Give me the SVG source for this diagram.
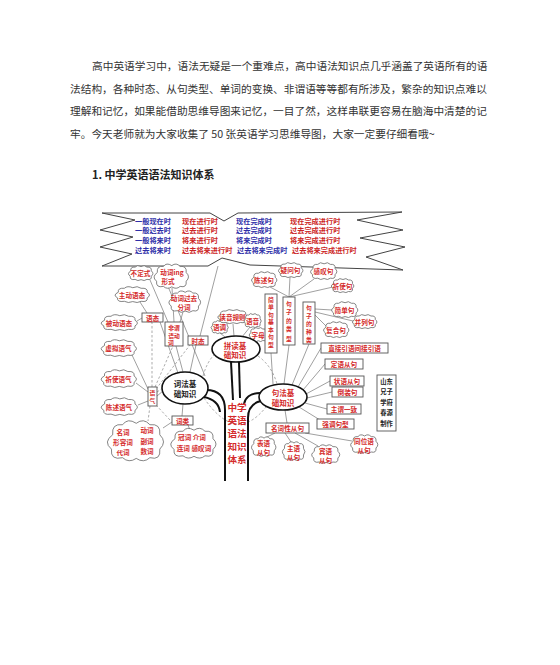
<svg xmlns="http://www.w3.org/2000/svg" xmlns:xlink="http://www.w3.org/1999/xlink" width="560" height="665" viewBox="0 0 560 665">
<style>
.p{font-family:"Noto Sans CJK SC","Noto Sans",sans-serif;font-size:10.7px;fill:#333}
.h{font-family:"Noto Sans CJK SC","Noto Sans",sans-serif;font-size:11px;font-weight:bold;fill:#222}
.r{font-family:"Noto Sans CJK SC",sans-serif;font-size:6.6px;font-weight:bold;fill:#d42b2b;text-anchor:middle;dominant-baseline:central}
.v{font-size:5.8px}
.b{font-family:"Noto Sans CJK SC",sans-serif;font-size:7.2px;font-weight:bold;fill:#2f2fa8}
.t{font-family:"Noto Sans CJK SC",sans-serif;font-size:7.2px;font-weight:bold;fill:#cc2525}
.k{font-family:"Noto Sans CJK SC",sans-serif;font-size:7.5px;font-weight:bold;fill:#222;text-anchor:middle;dominant-baseline:central}
.big{font-family:"Noto Sans CJK SC",sans-serif;font-size:9.6px;font-weight:bold;fill:#d42b2b;text-anchor:middle}
.bx{fill:#fff;stroke:#555;stroke-width:0.9}
.el{fill:#fff;stroke:#111;stroke-width:1.6}
.ln{stroke:#777;stroke-width:0.7;fill:none}
.ds{stroke:#888;stroke-width:0.7;fill:none;stroke-dasharray:2.5 2}
.tk{stroke:#111;stroke-width:2;fill:none}
</style>
<defs>
<symbol id="cloud" viewBox="0 0 100 60" preserveAspectRatio="none" style="overflow:visible">
<path d="M14,22 Q12,6 30,8 Q38,-2 52,6 Q64,-2 74,8 Q92,6 90,22 Q102,32 90,42 Q92,58 74,54 Q64,62 52,55 Q40,62 30,54 Q10,58 12,42 Q-2,32 14,22 Z" fill="#fff" stroke="#666" stroke-width="0.8" vector-effect="non-scaling-stroke"/>
</symbol>
</defs>

<g id="article">
<text class="p" x="92" y="70">高中英语学习中，语法无疑是一个重难点，高中语法知识点几乎涵盖了英语所有的语</text>
<text class="p" x="70" y="92.5">法结构，各种时态、从句类型、单词的变换、非谓语等等都有所涉及，繁杂的知识点难以</text>
<text class="p" x="70" y="115">理解和记忆，如果能借助思维导图来记忆，一目了然，这样串联更容易在脑海中清楚的记</text>
<text class="p" x="70" y="137.5">牢。今天老师就为大家收集了 50 张英语学习思维导图，大家一定要仔细看哦~</text>
<text class="h" x="92" y="179">1. 中学英语语法知识体系</text>
</g>

<g id="connectors">
<path class="ds" d="M203,376 Q207,362 214,355"/>
<path class="ds" d="M258,356 Q272,366 277,384"/>
<path class="ds" d="M204,398 Q236,445 266,407"/>
<path class="ds" d="M152,387 L152,322"/>
<path class="ds" d="M155,387 L173,346"/>
<path class="ds" d="M156,389 L190,345"/>
<path class="ds" d="M157,392 L163,388"/>
<path class="ds" d="M150,406 L148,421"/>
<path class="ds" d="M156,405 L170,420"/>
<path class="ln" d="M147,313 L140,302"/>
<path class="ln" d="M142,318 L137,321"/>
<path class="ln" d="M160,322 L178,373"/>
<path class="ln" d="M168,322 L150,280"/>
<path class="ln" d="M174,322 L172,288"/>
<path class="ln" d="M180,322 L183,312"/>
<path class="ln" d="M176,346 L183,372"/>
<path class="ln" d="M200,336 L218,266"/>
<path class="ln" d="M196,345 L190,372"/>
<path class="ln" d="M160,267 L205,376"/>
<path class="ln" d="M148,389 L132,355"/>
<path class="ln" d="M148,392 L136,383"/>
<path class="ln" d="M148,401 L138,405"/>
<path class="ln" d="M157,396 L163,391"/>
<path class="ln" d="M182,416 L183,404"/>
<path class="ln" d="M172,422 L163,428"/>
<path class="ln" d="M188,425 L190,430"/>
<path class="ln" d="M225,337 L220,333"/>
<path class="ln" d="M234,336 L233,324"/>
<path class="ln" d="M242,337 L250,327"/>
<path class="ln" d="M249,340 L254,338"/>
<path class="ln" d="M271,353 L273,384"/>
<path class="ln" d="M289,345 L284,384"/>
<path class="ln" d="M309,344 L292,385"/>
<path class="ln" d="M321,348 L298,387"/>
<path class="ln" d="M325,364 L303,390"/>
<path class="ln" d="M330,381 L306,394"/>
<path class="ln" d="M332,392 L307,398"/>
<path class="ln" d="M327,409 L305,403"/>
<path class="ln" d="M320,420 L299,407"/>
<path class="ln" d="M287,423 L285,410"/>
<path class="ln" d="M289,297 L270,287"/>
<path class="ln" d="M289,297 L290,277"/>
<path class="ln" d="M289,297 L314,279"/>
<path class="ln" d="M289,297 L333,287"/>
<path class="ln" d="M315,309 L332,310"/>
<path class="ln" d="M315,312 L353,321"/>
<path class="ln" d="M315,315 L326,326"/>
<path class="ln" d="M275,433 L265,438"/>
<path class="ln" d="M285,433 L291,442"/>
<path class="ln" d="M295,433 L318,446"/>
<path class="ln" d="M305,433 L352,441"/>
<path class="tk" d="M206,390 C220,390 225,398 225,410 L225,481"/>
<path class="tk" d="M204,397 C214,399 219,404 220,412"/>
<path class="tk" d="M231,362 L233,400"/>
<path class="tk" d="M239,362 L240,398"/>
<path class="tk" d="M261,401 C252,403 248,409 248,418 L248,481"/>
<path class="tk" d="M260,393 C250,393 245,398 244,404"/>
</g>

<g id="banner">
<polygon points="102,213 210,213 224,221 238,213 402,212 357,220 403,230 360,238 405,247 366,257 403,270 250,265 222,258 208,266 102,266 132,254 100,247 133,237 100,230 135,220" fill="#fff" stroke="#444" stroke-width="1"/>
<text class="b" x="135" y="223.5">一般现在时</text>
<text class="t" x="182" y="223.5">现在进行时</text>
<text class="b" x="236" y="223.5">现在完成时</text>
<text class="t" x="290" y="223.5">现在完成进行时</text>
<text class="b" x="135" y="233">一般过去时</text>
<text class="t" x="182" y="233">过去进行时</text>
<text class="b" x="236" y="233">过去完成时</text>
<text class="t" x="290" y="233">过去完成进行时</text>
<text class="b" x="135" y="242.5">一般将来时</text>
<text class="t" x="182" y="242.5">将来进行时</text>
<text class="b" x="236" y="242.5">将来完成时</text>
<text class="t" x="290" y="242.5">将来完成进行时</text>
<text class="b" x="135" y="252.5">过去将来时</text>
<text class="t" x="182" y="252.5">过去将来进行时</text>
<text class="b" x="237" y="252.5">过去将来完成时</text>
<text class="t" x="292" y="252.5">过去将来完成进行时</text>
</g>

<g id="n-budingshi"><use href="#cloud" x="127" y="265" width="27" height="16"/><text class="r" x="140.5" y="273">不定式</text></g>
<g id="n-ing"><use href="#cloud" x="152" y="263" width="38" height="26"/><text class="r" x="172" y="271.5">动词ing</text><text class="r" x="168" y="281">形式</text></g>
<g id="n-zhudong"><use href="#cloud" x="113" y="286" width="38" height="17"/><text class="r" x="132" y="294.5">主动语态</text></g>
<g id="n-guoqufenci"><use href="#cloud" x="167" y="290" width="35" height="23"/><text class="r" x="184" y="298">动词过去</text><text class="r" x="184" y="307">分词</text></g>
<g id="n-beidong"><use href="#cloud" x="99" y="314" width="40" height="17"/><text class="r" x="119" y="322.5">被动语态</text></g>
<g id="n-xuni"><use href="#cloud" x="99" y="339" width="39" height="18"/><text class="r" x="118.5" y="348">虚拟语气</text></g>
<g id="n-qishiyq"><use href="#cloud" x="99" y="369" width="39" height="19"/><text class="r" x="118.5" y="378.5">祈使语气</text></g>
<g id="n-chenshuyq"><use href="#cloud" x="99" y="397" width="40" height="19"/><text class="r" x="119" y="406.5">陈述语气</text></g>
<g id="n-yutai"><rect class="bx" x="142" y="313" width="21" height="9"/><text class="r" x="152.5" y="317.5">语态</text></g>
<g id="n-feiweiyu"><rect class="bx" x="165" y="322" width="18" height="24"/><text class="r v" x="174" y="327.5">非谓</text><text class="r v" x="174" y="335">语动</text><text class="r v" x="171" y="342.5">词</text></g>
<g id="n-shitai"><rect class="bx" x="188" y="336" width="20" height="9"/><text class="r" x="198" y="340.5">时态</text></g>
<g id="n-yuqi"><rect class="bx" x="148" y="387" width="9" height="19"/><text class="r v" x="152.5" y="392">语</text><text class="r v" x="152.5" y="400.5">气</text></g>
<g id="n-cilei"><rect class="bx" x="172" y="416" width="21" height="9"/><text class="r" x="182.5" y="420.5">词类</text></g>
<g id="n-shici"><use href="#cloud" x="104" y="419" width="62" height="43"/><text class="r" x="123" y="432">名词</text><text class="r" x="123" y="442">形容词</text><text class="r" x="123" y="452">代词</text><text class="r" x="147" y="430">动词</text><text class="r" x="147" y="441">副词</text><text class="r" x="147" y="451">数词</text></g>
<g id="n-xuci"><use href="#cloud" x="168" y="427" width="50" height="32"/><text class="r" x="192" y="437">冠词 介词</text><text class="r" x="194" y="447.5">连词 感叹词</text></g>
<g id="n-cifa"><ellipse class="el" cx="185" cy="388" rx="23" ry="16"/><text class="k" x="185" y="383">词法基</text><text class="k" x="185" y="393">础知识</text></g>

<g id="n-yudiao"><use href="#cloud" x="210" y="320" width="19" height="14"/><text class="r" x="219.5" y="327">语调</text></g>
<g id="n-duyin"><use href="#cloud" x="216" y="309" width="33" height="15"/><text class="r" x="232.5" y="316.5">读音规则</text></g>
<g id="n-yuyin"><use href="#cloud" x="243" y="313" width="19" height="15"/><text class="r" x="252.5" y="320.5">语音</text></g>
<g id="n-zimu"><use href="#cloud" x="248" y="327" width="20" height="15"/><text class="r" x="258" y="334.5">字母</text></g>
<g id="n-pindu"><ellipse class="el" cx="236" cy="349" rx="24" ry="13"/><text class="k" x="235" y="345" style="fill:#d42b2b">拼读基</text><text class="k" x="235" y="354.5" style="fill:#d42b2b">础知识</text></g>

<g id="n-center"><text class="big" x="237" y="410.5">中学<tspan x="237" dy="13">英语</tspan><tspan x="237" dy="13">语法</tspan><tspan x="237" dy="13">知识</tspan><tspan x="237" dy="13">体系</tspan></text></g>

<g id="n-chenshuju"><use href="#cloud" x="250" y="271" width="28" height="17"/><text class="r" x="264" y="279.5">陈述句</text></g>
<g id="n-yiwen"><use href="#cloud" x="277" y="262" width="27" height="16"/><text class="r" x="290.5" y="270">疑问句</text></g>
<g id="n-gantan"><use href="#cloud" x="309" y="262" width="29" height="18"/><text class="r" x="323.5" y="271">感叹句</text></g>
<g id="n-qishiju"><use href="#cloud" x="330" y="278" width="25" height="15"/><text class="r" x="342.5" y="285.5">祈使句</text></g>
<g id="n-jiandanjuxing"><rect class="bx" x="265" y="294" width="12" height="59"/><text class="r v" x="271" y="299">简</text><text class="r v" x="271" y="306.5">单</text><text class="r v" x="271" y="314">句</text><text class="r v" x="271" y="321.5">基</text><text class="r v" x="271" y="329">本</text><text class="r v" x="271" y="336.5">句</text><text class="r v" x="271" y="344.5">型</text></g>
<g id="n-leixing"><rect class="bx" x="283" y="297" width="12" height="48"/><text class="r v" x="289" y="303">句</text><text class="r v" x="289" y="311.5">子</text><text class="r v" x="289" y="320">的</text><text class="r v" x="289" y="328.5">类</text><text class="r v" x="289" y="338">型</text></g>
<g id="n-zhonglei"><rect class="bx" x="303" y="302" width="12" height="42"/><text class="r v" x="309" y="307">句</text><text class="r v" x="309" y="315">子</text><text class="r v" x="309" y="323">的</text><text class="r v" x="309" y="331.5">种</text><text class="r v" x="309" y="339.5">类</text></g>
<g id="n-jiandanju"><use href="#cloud" x="330" y="301" width="29" height="17"/><text class="r" x="344.5" y="309.5">简单句</text></g>
<g id="n-binglie"><use href="#cloud" x="351" y="314" width="27" height="15"/><text class="r" x="364.5" y="321.5">并列句</text></g>
<g id="n-fuhe"><use href="#cloud" x="322" y="321" width="28" height="17"/><text class="r" x="336" y="329.5">复合句</text></g>
<g id="n-zhijie"><rect class="bx" x="321" y="343" width="67" height="10"/><text class="r" x="354.5" y="348">直接引语间接引语</text></g>
<g id="n-dingyu"><rect class="bx" x="325" y="359" width="38" height="10"/><text class="r" x="344" y="364">定语从句</text></g>
<g id="n-zhuangyu"><rect class="bx" x="330" y="376" width="34" height="10"/><text class="r" x="347" y="381">状语从句</text></g>
<g id="n-daozhuang"><rect class="bx" x="332" y="387" width="31" height="10"/><text class="r" x="347.5" y="392">倒装句</text></g>
<g id="n-zhuwei"><rect class="bx" x="327" y="404" width="34" height="10"/><text class="r" x="344" y="409">主谓一致</text></g>
<g id="n-qiangdiao"><rect class="bx" x="317" y="419" width="37" height="10"/><text class="r" x="335.5" y="424">强调句型</text></g>
<g id="n-mingcixing"><rect class="bx" x="266" y="423" width="43" height="10"/><text class="r" x="287.5" y="428">名词性从句</text></g>
<g id="n-biaoyu"><use href="#cloud" x="250" y="436" width="27" height="21"/><text class="r" x="263.5" y="443">表语</text><text class="r" x="263.5" y="451.5">从句</text></g>
<g id="n-zhuyu"><use href="#cloud" x="281" y="441" width="25" height="20"/><text class="r" x="293.5" y="448">主语</text><text class="r" x="293.5" y="456.5">从句</text></g>
<g id="n-binyu"><use href="#cloud" x="310" y="444" width="31" height="20"/><text class="r" x="325.5" y="451">宾语</text><text class="r" x="325.5" y="459.5">从句</text></g>
<g id="n-tongwei"><use href="#cloud" x="349" y="434" width="30" height="20"/><text class="r" x="364" y="441">同位语</text><text class="r" x="364" y="449.5">从句</text></g>
<g id="n-jufa"><ellipse class="el" cx="283" cy="397" rx="24" ry="13"/><text class="k" x="283" y="392.5" style="fill:#d42b2b">句法基</text><text class="k" x="283" y="402" style="fill:#d42b2b">础知识</text></g>

<g id="n-author"><rect class="bx" x="377" y="375" width="19" height="56"/>
<text class="k" x="386.5" y="381" style="font-size:6.3px">山东</text>
<text class="k" x="386.5" y="391.5" style="font-size:6.3px">兄子</text>
<text class="k" x="386.5" y="402" style="font-size:6.3px">学府</text>
<text class="k" x="386.5" y="412.5" style="font-size:6.3px">春源</text>
<text class="k" x="386.5" y="423" style="font-size:6.3px">制作</text></g>
</svg>
